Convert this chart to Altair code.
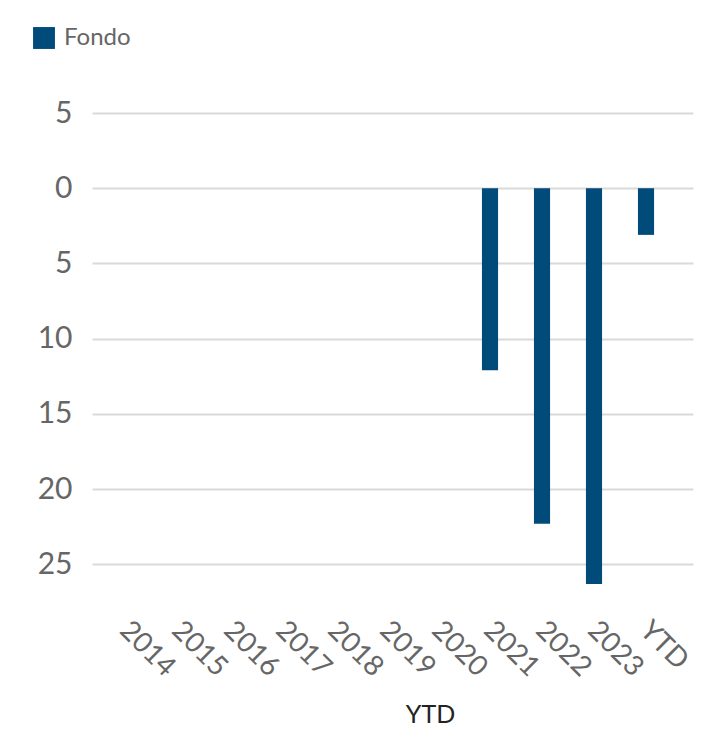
import altair as alt
import pandas as pd

categories = ["2014", "2015", "2016", "2017", "2018", "2019", "2020", "2021", "2022", "2023", "YTD"]
fondo = [None, None, None, None, None, None, None, -12.1, -22.3, -26.3, -3.1]
series_name = "Fondo"
y_ticks = [5, 0, -5, -10, -15, -20, -25]

df = pd.DataFrame({"anno": categories, "valor": fondo, "serie": [series_name] * len(categories)})

FONT = "Lato"
GRAY = "#666666"
BLUE = "#014B7B"

chart = alt.Chart(df).mark_bar(color=BLUE).encode(
    x=alt.X(
        "anno:N",
        sort=categories,
        scale=alt.Scale(paddingInner=0.69, paddingOuter=0.624, align=0.4),
        axis=alt.Axis(
            title="YTD",
            labelAngle=45,
            labelFontSize=28,
            labelColor=GRAY,
            labelFont=FONT,
            labelPadding=14,
            labelOffset=8,
            ticks=False,
            domain=False,
            titleFont=FONT,
            titleFontSize=25,
            titleFontWeight="normal",
            titleColor="#222222",
            titleX=338,
            titleY=100,
            titleBaseline="top",
        ),
    ),
    y=alt.Y(
        "valor:Q",
        scale=alt.Scale(domain=[-27.5, 5], nice=False, zero=True),
        axis=alt.Axis(
            title=None,
            values=y_ticks,
            labelExpr="format(abs(datum.value), 'd')",
            labelFontSize=30,
            labelColor=GRAY,
            labelFont=FONT,
            labelPadding=20,
            ticks=False,
            domain=False,
            gridColor="#d9d9d9",
            gridWidth=2,
        ),
    ),
    color=alt.Color(
        "serie:N",
        scale=alt.Scale(domain=[series_name], range=[BLUE]),
        legend=alt.Legend(
            title=None,
            orient="none",
            legendX=-60,
            legendY=-87,
            symbolType="square",
            symbolSize=480,
            symbolStrokeWidth=0,
            labelFontSize=24,
            labelColor=GRAY,
            labelFont=FONT,
            labelOffset=8,
        ),
    ),
).properties(
    width=601,
    height=489,
    padding={"left": 84, "top": 105, "right": 25, "bottom": 130},
    autosize=alt.AutoSizeParams(type="none"),
).configure_view(stroke=None)

chart.save("out.html", embed_options={"renderer": "svg", "actions": False})
